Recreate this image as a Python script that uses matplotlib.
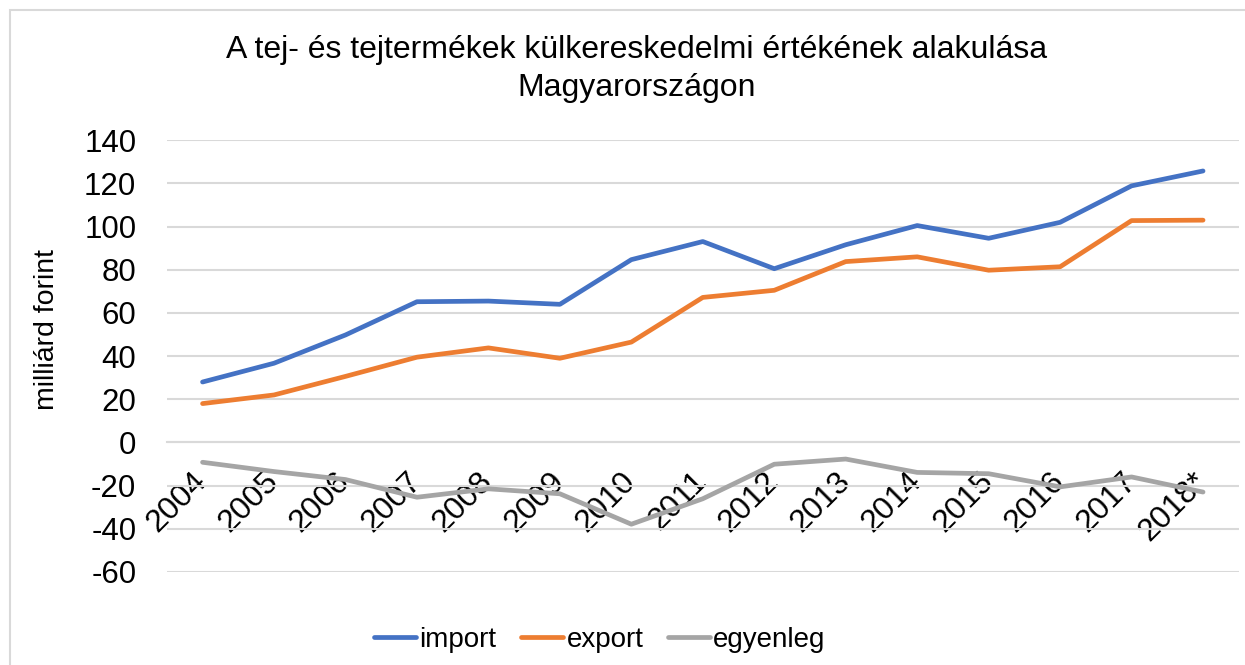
import matplotlib.pyplot as plt
from matplotlib.patches import Rectangle

plt.rcParams["font.family"] = ["Liberation Sans", "DejaVu Sans"]
plt.rcParams["axes.unicode_minus"] = False

years = ["2004", "2005", "2006", "2007", "2008", "2009", "2010", "2011",
         "2012", "2013", "2014", "2015", "2016", "2017", "2018*"]
import_vals = [28.0, 36.7, 49.8, 65.2, 65.5, 64.0, 84.7, 93.1,
               80.5, 91.6, 100.5, 94.6, 102.0, 118.9, 125.8]
export_vals = [18.0, 22.0, 30.6, 39.5, 43.8, 39.0, 46.5, 67.2,
               70.5, 83.8, 86.0, 79.8, 81.4, 102.8, 103.0]
balance_vals = [-9.2, -13.5, -17.2, -25.4, -21.5, -23.8, -37.9, -26.1,
                -10.1, -7.7, -13.9, -14.5, -20.6, -16.0, -23.0]
yticks = [-60, -40, -20, 0, 20, 40, 60, 80, 100, 120, 140]

series = [
    ("import", import_vals, "#4472C4"),
    ("export", export_vals, "#ED7D31"),
    ("egyenleg", balance_vals, "#A5A5A5"),
]

fig = plt.figure(figsize=(12.45, 6.65), dpi=100)
ax = fig.add_axes([0.134, 0.140, 0.861, 0.649])

x = list(range(len(years)))
for name, vals, color in series:
    ax.plot(x, vals, color=color, linewidth=3.4, label=name, solid_capstyle="round")

ax.set_xlim(-0.5, len(years) - 0.5)
ax.set_ylim(-60, 140)
ax.set_yticks(yticks)
ax.yaxis.grid(True, color="#d9d9d9", linewidth=1.5)
ax.set_axisbelow(True)
for side in ["top", "right", "left"]:
    ax.spines[side].set_visible(False)
ax.spines["bottom"].set_position(("data", 0))
ax.spines["bottom"].set_color("#d9d9d9")
ax.spines["bottom"].set_linewidth(1.5)

ax.set_xticks(x)
ax.set_xticklabels(years, rotation=45, ha="right", va="center", rotation_mode="anchor")
ax.tick_params(axis="x", length=0, pad=25, labelsize=23)
ax.tick_params(axis="y", length=0, pad=22, labelsize=22.5)

ax.set_ylabel("milliárd forint", fontsize=20.5)
ax.yaxis.set_label_coords(-0.1, 0.5625)

fig.suptitle("A tej- és tejtermékek külkereskedelmi értékének alakulása\nMagyarországon",
             fontsize=23, x=0.511, y=0.948, linespacing=1.35)

fig.legend(*ax.get_legend_handles_labels(), loc="center", bbox_to_anchor=(0.482, 0.038),
           ncol=3, frameon=False, fontsize=20, handlelength=1.5, handletextpad=0.12,
           columnspacing=0.9, borderaxespad=0)

fig.add_artist(Rectangle((0.008, -0.01), 1.0, 0.995, transform=fig.transFigure,
                         fill=False, edgecolor="#d9d9d9", linewidth=1.5))

fig.savefig("out.png", dpi=100)
